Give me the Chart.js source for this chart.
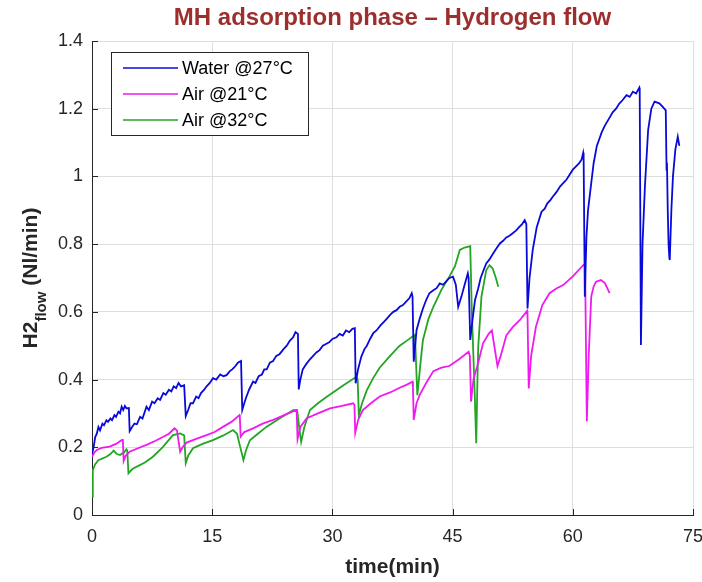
<!DOCTYPE html>
<html lang="en">
<head>
  <meta charset="UTF-8">
  <title>MH adsorption phase – Hydrogen flow</title>
  <script src="https://cdn.jsdelivr.net/npm/chart.js"></script>
  <style>
    body {
      margin: 0;
      background-color: #ffffff;
    }

    canvas {
      display: block;
    }
  </style>
</head>
<body>
  <canvas id="flowChart" width="702" height="582"></canvas>

  <script>
    const xTicks = [0, 15, 30, 45, 60, 75];
    const yTicks = [0, 0.2, 0.4, 0.6, 0.8, 1, 1.2, 1.4];
    const seriesNames = ['Water @27°C', 'Air @21°C', 'Air @32°C'];

    // Water @27°C
    const waterTime = [0, 0.2, 0.4, 0.6, 0.8, 1.0, 1.3, 1.5, 1.8, 2.0, 2.3, 2.5, 2.8, 3.0, 3.3, 3.5, 3.7, 3.9, 4.1, 4.3, 4.6,
      4.7, 5.0, 5.3, 5.6, 6.0, 6.3, 6.8, 7.1, 7.5, 7.8, 8.2, 8.5, 8.9, 9.2, 9.6, 9.9, 10.2, 10.5, 10.8, 11.1, 11.5,
      11.7, 12.0, 12.3, 12.6, 13.0, 13.3, 13.6, 14.0, 14.3, 14.7, 15.1, 15.5, 16.0, 16.4, 16.8, 17.2, 17.5, 17.9, 18.2, 18.6,
      18.75, 19.0, 19.2, 19.6, 20.1, 20.4, 20.8, 21.2, 21.5, 21.8, 22.2, 22.6, 23.0, 23.4, 23.9, 24.3, 24.7, 25.1, 25.4, 25.7,
      25.8, 26.0, 26.3, 26.8, 27.2, 27.6, 28.0, 28.4, 28.8, 29.2, 29.6, 30.0, 30.5, 30.9, 31.3, 31.7, 32.1, 32.5, 32.8,
      32.9, 33.2, 33.6, 34.0, 34.3, 34.7, 35.1, 35.5, 36.0, 36.4, 36.8, 37.2, 37.6, 38.0, 38.4, 38.8, 39.2, 39.6, 39.9, 40.0,
      40.15, 40.5, 40.9, 41.3, 41.7, 42.1, 42.6, 43.0, 43.4, 43.8, 44.2, 44.6, 45.05, 45.4, 45.7, 46.1, 46.5, 46.9, 47.0,
      47.2, 47.5, 47.8, 48.2, 48.5, 48.9, 49.2, 49.6, 50.0, 50.4, 50.9, 51.3, 51.7, 52.1, 52.5, 52.9, 53.3, 53.7, 54.0, 54.2,
      54.35, 54.6, 55.0, 55.5, 56.1, 56.5, 56.8, 57.2, 57.5, 58.0, 58.4, 58.8, 59.2, 59.6, 60.0, 60.4, 60.8, 61.1, 61.3, 61.35,
      61.5, 61.7, 61.9, 62.3, 62.6, 63.0, 63.3, 63.6, 64.0, 64.5, 65.0, 65.4, 65.8, 66.2, 66.7, 67.1, 67.5, 67.9, 68.3, 68.35,
      68.5, 68.7, 69.0, 69.4, 69.8, 70.2, 70.8, 71.2, 71.6, 71.7, 71.75, 71.85, 71.95, 72.05, 72.1, 72.3, 72.5, 72.8, 73.1, 73.3];
    const waterFlow = [0.18, 0.2, 0.23, 0.24, 0.26, 0.25, 0.27, 0.265, 0.28, 0.275, 0.285, 0.28, 0.295, 0.29, 0.305, 0.30, 0.32, 0.31, 0.322, 0.315, 0.316,
      0.248, 0.26, 0.27, 0.268, 0.29, 0.285, 0.32, 0.31, 0.335, 0.33, 0.345, 0.34, 0.36, 0.355, 0.37, 0.365, 0.38, 0.375, 0.39, 0.38, 0.383,
      0.292, 0.31, 0.33, 0.33, 0.35, 0.345, 0.36, 0.37, 0.38, 0.39, 0.404, 0.40, 0.415, 0.41, 0.413, 0.425, 0.43, 0.44, 0.45, 0.455,
      0.31, 0.33, 0.345, 0.37, 0.394, 0.39, 0.41, 0.415, 0.43, 0.43, 0.45, 0.455, 0.47, 0.475, 0.49, 0.50, 0.515, 0.525, 0.54, 0.535,
      0.371, 0.40, 0.43, 0.448, 0.46, 0.47, 0.48, 0.487, 0.50, 0.505, 0.51, 0.52, 0.525, 0.535, 0.53, 0.545, 0.54, 0.55, 0.552,
      0.389, 0.43, 0.467, 0.49, 0.50, 0.52, 0.537, 0.545, 0.56, 0.57, 0.58, 0.591, 0.60, 0.605, 0.615, 0.62, 0.63, 0.64, 0.655, 0.645,
      0.453, 0.546, 0.58, 0.61, 0.635, 0.655, 0.664, 0.67, 0.684, 0.68, 0.69, 0.70, 0.704, 0.68, 0.615, 0.645, 0.68, 0.714, 0.70,
      0.517, 0.58, 0.635, 0.67, 0.70, 0.725, 0.743, 0.755, 0.77, 0.785, 0.802, 0.81, 0.82, 0.825, 0.832, 0.84, 0.85, 0.86, 0.871, 0.86,
      0.61, 0.70, 0.783, 0.85, 0.896, 0.905, 0.92, 0.93, 0.94, 0.955, 0.97, 0.98, 0.99, 1.005, 1.02, 1.03, 1.039, 1.05, 1.07, 1.06,
      0.645, 0.82, 0.90, 0.98, 1.039, 1.09, 1.11, 1.13, 1.15, 1.17, 1.19, 1.20, 1.215, 1.225, 1.24, 1.235, 1.25, 1.245, 1.262, 1.25,
      0.502, 0.80, 0.97, 1.137, 1.20, 1.221, 1.216, 1.206, 1.195, 1.02, 1.04, 0.90, 0.80, 0.76, 0.753, 0.90, 1.0, 1.08, 1.117, 1.09];

    // Air @21°C
    const air21Time = [0, 0.3, 0.6, 1.2, 2.2, 3.0, 3.7, 3.85, 3.95, 4.2, 4.7, 5.8, 6.8, 7.8, 8.9, 9.6, 10.3, 10.6, 11.0, 11.3,
      11.8, 13.0, 14.3, 15.3, 16.4, 17.4, 18.4, 18.45, 18.55, 19.0, 20.1, 21.3, 22.6, 24.0, 25.5, 25.55, 25.65, 26.0, 26.8, 28.2,
      29.7, 31.2, 32.6, 32.75, 32.85, 33.2, 33.8, 34.8, 35.9, 37.2, 38.4, 39.3, 40.0, 40.05, 40.15, 40.5, 40.9, 41.7, 42.6, 43.6,
      44.6, 45.8, 47.0, 47.15, 47.3, 47.6, 48.2, 48.8, 49.5, 49.9, 50.2, 50.6, 51.0, 51.7, 52.5, 53.4, 54.3, 54.35, 54.5, 54.8,
      55.4, 56.2, 57.1, 58.0, 58.8, 60.0, 61.3, 61.5, 61.55, 61.75, 62.0, 62.3, 62.6, 62.9, 63.5, 64.0, 64.6];
    const air21Flow = [0.172, 0.185, 0.192, 0.198, 0.202, 0.21, 0.221, 0.222, 0.16, 0.175, 0.187, 0.198, 0.207, 0.218, 0.231, 0.24, 0.256, 0.25, 0.187, 0.20,
      0.214, 0.225, 0.236, 0.245, 0.261, 0.275, 0.295, 0.29, 0.231, 0.245, 0.256, 0.27, 0.281, 0.295, 0.31, 0.30, 0.224, 0.26, 0.286, 0.30,
      0.315, 0.322, 0.33, 0.325, 0.243, 0.28, 0.31, 0.33, 0.35, 0.362, 0.376, 0.385, 0.394, 0.38, 0.281, 0.33, 0.355, 0.39, 0.425, 0.435,
      0.44, 0.46, 0.482, 0.47, 0.335, 0.40, 0.45, 0.507, 0.535, 0.545, 0.50, 0.44, 0.47, 0.53, 0.555, 0.576, 0.603, 0.59, 0.374, 0.47,
      0.556, 0.62, 0.655, 0.67, 0.679, 0.705, 0.738, 0.74, 0.70, 0.276, 0.48, 0.645, 0.675, 0.689, 0.694, 0.685, 0.655];

    // Air @32°C
    const air32Time = [0, 0.1, 0.4, 0.8, 1.8, 2.3, 2.7, 3.1, 3.5, 4.0, 4.3, 4.4, 4.55, 5.0, 5.6, 6.6, 7.6, 8.8, 10.1, 11.0,
      11.5, 11.7, 12.0, 12.6, 13.8, 15.1, 16.4, 17.6, 18.1, 18.4, 18.9, 19.2, 19.7, 20.7, 21.8, 23.4, 25.1, 25.6, 25.9, 26.1,
      26.5, 27.2, 28.2, 29.3, 31.2, 33.0, 33.15, 33.3, 33.7, 34.3, 35.1, 35.9, 37.2, 38.4, 39.3, 40.1, 40.3, 40.6, 41.0, 41.3,
      42.0, 42.6, 43.6, 44.6, 45.3, 45.9, 46.5, 47.2, 47.4, 47.7, 47.95, 48.1, 48.2, 48.6, 49.2, 49.6, 50.0, 50.4, 50.7];
    const air32Flow = [0.054, 0.133, 0.15, 0.162, 0.172, 0.18, 0.19, 0.18, 0.177, 0.185, 0.194, 0.19, 0.123, 0.135, 0.143, 0.155, 0.172, 0.2, 0.236, 0.241,
      0.235, 0.153, 0.175, 0.197, 0.21, 0.221, 0.235, 0.251, 0.24, 0.21, 0.162, 0.19, 0.221, 0.24, 0.261, 0.285, 0.31, 0.31, 0.25, 0.216,
      0.26, 0.31, 0.33, 0.349, 0.38, 0.408, 0.40, 0.295, 0.33, 0.369, 0.405, 0.435, 0.47, 0.50, 0.515, 0.529, 0.532, 0.354, 0.45, 0.517,
      0.58, 0.615, 0.665, 0.704, 0.735, 0.783, 0.79, 0.794, 0.60, 0.40, 0.212, 0.40, 0.497, 0.645, 0.723, 0.738, 0.728, 0.70, 0.674];

    const lineColors = ['#0a0ad8', '#f01af0', '#22a522'];
    const fontFamily = '"Liberation Sans", Arial, sans-serif';

    function toPoints(times, flows) {
      return times.map((t, i) => ({ x: t, y: flows[i] }));
    }

    // title, axis titles, legend box and inward tick marks, MATLAB style
    const decorations = {
      id: 'decorations',
      afterDraw(chart) {
        const { ctx, chartArea: area, scales } = chart;
        ctx.save();

        ctx.strokeStyle = '#262626';
        ctx.lineWidth = 1;
        ctx.beginPath();
        xTicks.forEach(v => {
          const px = Math.round(scales.x.getPixelForValue(v)) + 0.5;
          ctx.moveTo(px, area.bottom);
          ctx.lineTo(px, area.bottom - 6);
        });
        yTicks.forEach(v => {
          const py = Math.round(scales.y.getPixelForValue(v)) + 0.5;
          ctx.moveTo(area.left, py);
          ctx.lineTo(area.left + 6, py);
        });
        ctx.stroke();

        const midX = (area.left + area.right) / 2;
        const midY = (area.top + area.bottom) / 2;

        ctx.fillStyle = '#9c2e2e';
        ctx.font = 'bold 24px ' + fontFamily;
        ctx.textAlign = 'center';
        ctx.textBaseline = 'middle';
        ctx.fillText('MH adsorption phase – Hydrogen flow', midX, 18);

        ctx.fillStyle = '#262626';
        ctx.font = 'bold 21px ' + fontFamily;
        ctx.fillText('time(min)', midX, 567);

        // y title with subscript
        ctx.save();
        ctx.translate(37, midY);
        ctx.rotate(-Math.PI / 2);
        ctx.textAlign = 'left';
        ctx.textBaseline = 'alphabetic';
        const bigFont = 'bold 21px ' + fontFamily;
        const smallFont = 'bold 15px ' + fontFamily;
        ctx.font = bigFont;
        const w1 = ctx.measureText('H2').width;
        const w3 = ctx.measureText(' (Nl/min)').width;
        ctx.font = smallFont;
        const w2 = ctx.measureText('flow').width;
        let pos = -(w1 + w2 + w3) / 2;
        ctx.font = bigFont;
        ctx.fillText('H2', pos, 0);
        pos += w1;
        ctx.font = smallFont;
        ctx.fillText('flow', pos, 9);
        pos += w2;
        ctx.font = bigFont;
        ctx.fillText(' (Nl/min)', pos, 0);
        ctx.restore();

        // legend
        ctx.fillStyle = '#ffffff';
        ctx.fillRect(111, 52, 197, 83);
        ctx.strokeStyle = '#262626';
        ctx.strokeRect(111.5, 52.5, 197, 83);
        ctx.font = '18px ' + fontFamily;
        ctx.textAlign = 'left';
        ctx.textBaseline = 'middle';
        seriesNames.forEach((name, i) => {
          const ly = 68 + i * 26;
          ctx.strokeStyle = lineColors[i];
          ctx.lineWidth = 1.5;
          ctx.beginPath();
          ctx.moveTo(123, ly);
          ctx.lineTo(178, ly);
          ctx.stroke();
          ctx.fillStyle = '#000000';
          ctx.fillText(name, 182, ly + 1);
        });

        ctx.restore();
      }
    };

    const ctx = document.getElementById('flowChart').getContext('2d');
    new Chart(ctx, {
      type: 'line',
      data: {
        datasets: [
          { label: seriesNames[0], data: toPoints(waterTime, waterFlow), borderColor: lineColors[0] },
          { label: seriesNames[1], data: toPoints(air21Time, air21Flow), borderColor: lineColors[1] },
          { label: seriesNames[2], data: toPoints(air32Time, air32Flow), borderColor: lineColors[2] }
        ]
      },
      options: {
        responsive: false,
        animation: false,
        devicePixelRatio: 1,
        layout: {
          padding: { top: 41, right: 9, left: 0, bottom: 0 }
        },
        elements: {
          point: { radius: 0 },
          line: { borderWidth: 1.8, tension: 0 }
        },
        plugins: {
          legend: { display: false },
          title: { display: false },
          tooltip: { enabled: false }
        },
        scales: {
          x: {
            type: 'linear',
            min: 0,
            max: 75,
            afterBuildTicks: scale => { scale.ticks = xTicks.map(v => ({ value: v })); },
            afterFit: scale => { scale.height = 67; scale.paddingRight = 0; scale.paddingLeft = 0; },
            ticks: {
              maxRotation: 0,
              autoSkip: false,
              padding: 11,
              color: '#262626',
              font: { family: fontFamily, size: 18 }
            },
            grid: { color: '#dedede', drawTicks: false },
            border: { color: '#262626', width: 1 }
          },
          y: {
            min: 0,
            max: 1.4,
            afterBuildTicks: scale => { scale.ticks = yTicks.map(v => ({ value: v })); },
            afterFit: scale => { scale.width = 92; },
            ticks: {
              padding: 9,
              color: '#262626',
              font: { family: fontFamily, size: 18 },
              callback: v => String(Number(v.toFixed(1)))
            },
            grid: { color: '#dedede', drawTicks: false },
            border: { color: '#262626', width: 1 }
          }
        }
      },
      plugins: [decorations]
    });
  </script>
</body>
</html>
